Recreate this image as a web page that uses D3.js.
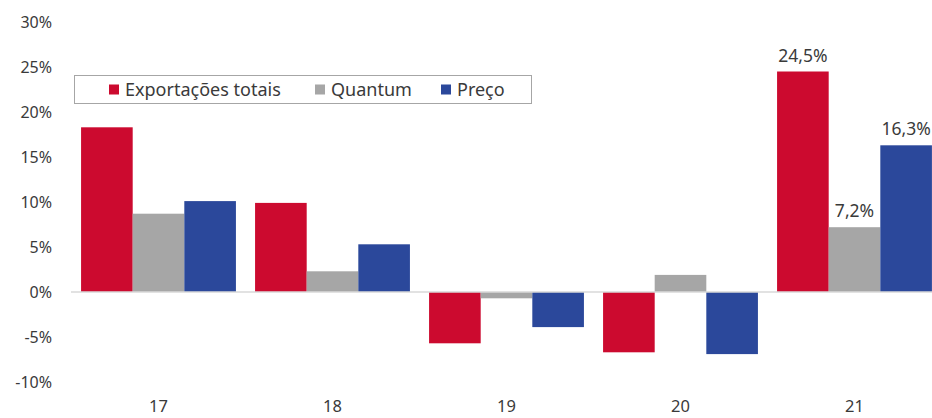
<!DOCTYPE html>
<html>
<head>
<meta charset="utf-8">
<script src="https://cdn.jsdelivr.net/npm/d3@7"></script>
<style>
  body { margin: 0; background: #fff; }
  text { font-family: "Noto Sans", "Open Sans", sans-serif; fill: #3a3a3a; }
</style>
</head>
<body>
<div id="chart"></div>
<script>
// data
const years = ["17", "18", "19", "20", "21"];
const seriesNames = ["Exportações totais", "Quantum", "Preço"];
const exportacoes = [18.3, 9.9, -5.7, -6.7, 24.5];
const quantum = [8.7, 2.3, -0.7, 1.9, 7.2];
const preco = [10.1, 5.3, -3.9, -6.9, 16.3];
const yTicks = [-10, -5, 0, 5, 10, 15, 20, 25, 30];
const labelledYear = "21";

const colors = ["#cc0a2f", "#a6a6a6", "#2b489b"];
const seriesValues = [exportacoes, quantum, preco];

const width = 932, height = 418;

const svg = d3.select("#chart").append("svg")
    .attr("width", width)
    .attr("height", height);

const y = d3.scaleLinear().domain([-10, 30]).range([382, 22]);

const x0 = d3.scaleBand()
    .domain(years)
    .range([71.5, 941.5])
    .paddingInner(0.11)
    .paddingOuter(0.055);

const x1 = d3.scaleBand()
    .domain(d3.range(seriesNames.length))
    .range([0, x0.bandwidth()]);

// y tick labels
svg.append("g")
    .selectAll("text")
    .data(yTicks)
    .join("text")
    .attr("x", 52)
    .attr("y", d => y(d))
    .attr("dy", "0.35em")
    .attr("text-anchor", "end")
    .attr("font-size", 16)
    .text(d => d + "%");

// bars
const groups = svg.append("g")
    .selectAll("g")
    .data(years)
    .join("g")
    .attr("transform", d => `translate(${x0(d)},0)`);

groups.selectAll("rect")
    .data((yr, i) => seriesValues.map((s, k) => ({ k: k, v: s[i], yr: yr })))
    .join("rect")
    .attr("x", d => x1(d.k))
    .attr("width", x1.bandwidth())
    .attr("y", d => y(Math.max(0, d.v)))
    .attr("height", d => Math.abs(y(d.v) - y(0)))
    .attr("fill", d => colors[d.k]);

// data labels on last year only
groups.filter(d => d === labelledYear)
    .selectAll("text.val")
    .data((yr) => seriesValues.map((s, k) => ({ k: k, v: s[years.indexOf(yr)] })))
    .join("text")
    .attr("class", "val")
    .attr("x", d => x1(d.k) + x1.bandwidth() / 2)
    .attr("y", d => y(d.v) - 10)
    .attr("text-anchor", "middle")
    .attr("font-size", 17.5)
    .text(d => d3.format(".1f")(d.v).replace(".", ",") + "%");

// zero line
svg.append("line")
    .attr("x1", 71)
    .attr("x2", width)
    .attr("y1", y(0))
    .attr("y2", y(0))
    .attr("stroke", "#d9d9d9")
    .attr("stroke-width", 1.5);

// x labels
svg.append("g")
    .selectAll("text")
    .data(years)
    .join("text")
    .attr("x", d => x0(d) + x0.bandwidth() / 2)
    .attr("y", 406)
    .attr("dy", "0.35em")
    .attr("text-anchor", "middle")
    .attr("font-size", 16.5)
    .text(d => d);

// legend
const legend = svg.append("g");
legend.append("rect")
    .attr("x", 74.5)
    .attr("y", 75.5)
    .attr("width", 457)
    .attr("height", 28)
    .attr("fill", "#fff")
    .attr("stroke", "#a6a6a6");

const legendX = [109, 315, 441];
const items = legend.selectAll("g")
    .data(seriesNames)
    .join("g")
    .attr("transform", (d, i) => `translate(${legendX[i]},89.5)`);

items.append("rect")
    .attr("x", 0)
    .attr("y", -5)
    .attr("width", 10)
    .attr("height", 10)
    .attr("fill", (d, i) => colors[i]);

items.append("text")
    .attr("x", 16)
    .attr("dy", "0.35em")
    .attr("font-size", 18)
    .text(d => d);
</script>
</body>
</html>
